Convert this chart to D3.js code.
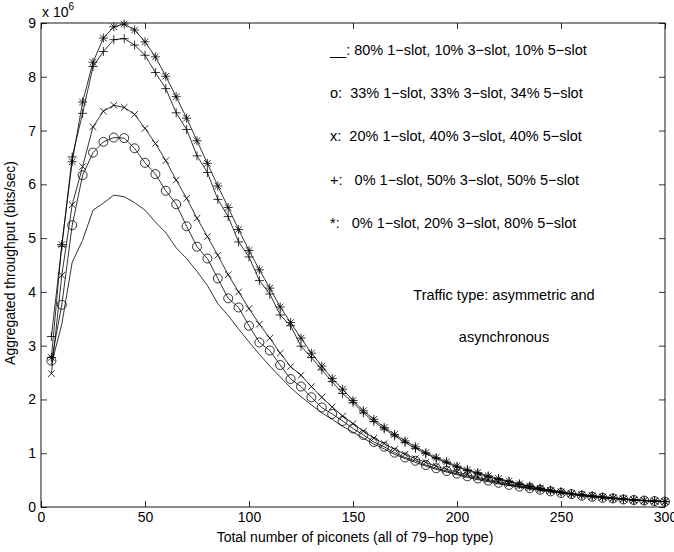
<!DOCTYPE html>
<html>
<head>
<meta charset="utf-8">
<script src="https://cdn.jsdelivr.net/npm/d3@7"></script>
<style>
  body { margin: 0; background: #fff; }
  svg text { font-family: "Liberation Sans", Arial, Helvetica, sans-serif; fill: #000; }
</style>
</head>
<body>
<svg id="chart" width="674" height="552"></svg>
<script>
// piconet counts (x) shared by every series
var piconets = d3.range(5, 301, 5);

// throughput in units of 1e6 bits/sec
var mix80_10_10 = [2.65,3.40,4.55,4.96,5.52,5.65,5.80,5.77,5.66,5.52,5.30,5.10,4.82,4.62,4.38,4.12,3.78,3.56,3.31,3.07,
  2.84,2.62,2.42,2.22,2.05,1.90,1.75,1.63,1.50,1.39,1.28,1.17,1.08,0.98,0.90,0.83,0.76,0.70,0.65,0.60,
  0.55,0.51,0.47,0.43,0.40,0.37,0.34,0.31,0.28,0.26,0.23,0.21,0.19,0.17,0.16,0.14,0.13,0.12,0.11,0.10];
var mix33_33_34 = [2.72,3.76,5.24,6.17,6.59,6.79,6.87,6.86,6.67,6.40,6.19,5.88,5.63,5.22,4.84,4.62,4.25,3.88,3.71,3.37,
  3.06,2.91,2.64,2.38,2.24,2.04,1.85,1.73,1.60,1.46,1.34,1.21,1.12,1.01,0.92,0.86,0.78,0.72,0.67,0.62,
  0.57,0.53,0.49,0.45,0.41,0.38,0.35,0.32,0.29,0.26,0.24,0.21,0.19,0.17,0.16,0.14,0.13,0.12,0.11,0.10];
var mix20_40_40 = [2.48,4.31,5.62,6.33,7.07,7.36,7.47,7.43,7.30,7.04,6.76,6.44,6.08,5.74,5.37,5.03,4.68,4.32,4.00,3.69,
  3.40,3.14,2.86,2.61,2.45,2.24,2.04,1.86,1.69,1.55,1.41,1.28,1.18,1.07,0.98,0.90,0.83,0.76,0.70,0.65,
  0.60,0.55,0.51,0.47,0.43,0.39,0.36,0.33,0.30,0.27,0.24,0.22,0.20,0.18,0.16,0.15,0.13,0.12,0.11,0.10];
var mix0_50_50 = [3.17,4.85,6.51,7.32,8.19,8.47,8.69,8.71,8.59,8.40,8.08,7.78,7.33,7.02,6.53,6.22,5.72,5.40,4.93,4.65,
  4.21,3.96,3.57,3.37,2.99,2.78,2.55,2.33,2.11,1.94,1.75,1.59,1.45,1.32,1.20,1.09,0.99,0.90,0.82,0.74,
  0.68,0.62,0.56,0.51,0.47,0.42,0.38,0.34,0.31,0.28,0.25,0.22,0.20,0.18,0.16,0.15,0.13,0.12,0.11,0.10];
var mix0_20_80 = [2.78,4.88,6.42,7.53,8.27,8.72,8.93,8.98,8.87,8.65,8.37,8.01,7.63,7.23,6.81,6.39,5.97,5.57,5.16,4.77,
  4.41,4.07,3.72,3.43,3.14,2.86,2.62,2.39,2.19,1.98,1.79,1.63,1.48,1.35,1.23,1.12,1.01,0.92,0.84,0.76,
  0.69,0.64,0.58,0.53,0.48,0.43,0.39,0.35,0.31,0.28,0.25,0.23,0.21,0.19,0.17,0.15,0.13,0.12,0.11,0.10];

var xTicks = [0, 50, 100, 150, 200, 250, 300];
var yTicks = [0, 1, 2, 3, 4, 5, 6, 7, 8, 9];

var legendLines = [
  "__: 80% 1\u2212slot, 10% 3\u2212slot, 10% 5\u2212slot",
  "o:  33% 1\u2212slot, 33% 3\u2212slot, 34% 5\u2212slot",
  "x:  20% 1\u2212slot, 40% 3\u2212slot, 40% 5\u2212slot",
  "+:   0% 1\u2212slot, 50% 3\u2212slot, 50% 5\u2212slot",
  "*:   0% 1\u2212slot, 20% 3\u2212slot, 80% 5\u2212slot"
];
var noteLines = ["Traffic type: asymmetric and", "asynchronous"];

var series = [
  {values: mix80_10_10, marker: "none"},
  {values: mix33_33_34, marker: "circle"},
  {values: mix20_40_40, marker: "cross"},
  {values: mix0_50_50, marker: "plus"},
  {values: mix0_20_80, marker: "star"}
];

var margin = {top: 23, right: 9, bottom: 45, left: 41};
var width = 674 - margin.left - margin.right;
var height = 552 - margin.top - margin.bottom;

var svg = d3.select("#chart");
var g = svg.append("g")
  .attr("transform", "translate(" + margin.left + "," + margin.top + ")");

var x = d3.scaleLinear().domain([0, 300]).range([0, width]);
var y = d3.scaleLinear().domain([0, 9]).range([height, 0]);

// axes with inward ticks on all four sides
function styleAxis(sel) {
  sel.select(".domain").remove();
  sel.selectAll(".tick line").attr("stroke", "#000").attr("stroke-width", 0.8);
  sel.selectAll("text").style("font-size", "14px").attr("fill", "#000");
}
g.append("g").attr("transform", "translate(0," + height + ")")
  .call(d3.axisBottom(x).tickValues(xTicks).tickSizeInner(-6).tickSizeOuter(0).tickPadding(5))
  .call(styleAxis);
g.append("g")
  .call(d3.axisTop(x).tickValues(xTicks).tickSizeInner(-6).tickSizeOuter(0).tickFormat(""))
  .call(styleAxis);
g.append("g")
  .call(d3.axisLeft(y).tickValues(yTicks).tickSizeInner(-6).tickSizeOuter(0).tickPadding(5))
  .call(styleAxis);
g.append("g").attr("transform", "translate(" + width + ",0)")
  .call(d3.axisRight(y).tickValues(yTicks).tickSizeInner(-6).tickSizeOuter(0).tickFormat(""))
  .call(styleAxis);

g.append("rect")
  .attr("width", width).attr("height", height)
  .attr("fill", "none").attr("stroke", "#000").attr("stroke-width", 0.9);

// curves
var line = d3.line()
  .x(function(d, i) { return x(piconets[i]); })
  .y(function(d) { return y(d); });

series.forEach(function(s) {
  g.append("path")
    .datum(s.values)
    .attr("d", line)
    .attr("fill", "none")
    .attr("stroke", "#000")
    .attr("stroke-width", 0.8);

  if (s.marker == "none") return;
  var m = g.append("g").selectAll("g")
    .data(s.values)
    .enter().append("g")
    .attr("transform", function(d, i) { return "translate(" + x(piconets[i]) + "," + y(d) + ")"; })
    .attr("fill", "none")
    .attr("stroke", "#000")
    .attr("stroke-width", 0.8);

  if (s.marker == "circle") {
    m.append("circle").attr("r", 4.5);
  }
  if (s.marker == "plus" || s.marker == "star") {
    m.append("path").attr("d", "M-4.5,0H4.5M0,-4.5V4.5");
  }
  if (s.marker == "cross" || s.marker == "star") {
    m.append("path").attr("d", "M-3.3,-3.3L3.3,3.3M-3.3,3.3L3.3,-3.3");
  }
});

// exponent label
var expo = svg.append("text").attr("x", 42).attr("y", 17).style("font-size", "14px");
expo.append("tspan").text("x 10");
expo.append("tspan").attr("dy", -7).style("font-size", "10px").text("6");

// axis titles
svg.append("text")
  .attr("x", margin.left + width / 2 + 2)
  .attr("y", 542)
  .attr("text-anchor", "middle")
  .style("font-size", "14px")
  .text("Total number of piconets (all of 79\u2212hop type)");

svg.append("text")
  .attr("transform", "translate(15," + (margin.top + height / 2 - 2) + ") rotate(-90)")
  .attr("text-anchor", "middle")
  .style("font-size", "14px")
  .text("Aggregated throughput (bits/sec)");

// legend text block
svg.append("g").selectAll("text")
  .data(legendLines)
  .enter().append("text")
  .attr("x", 330)
  .attr("y", function(d, i) { return 55 + i * 43.2; })
  .attr("xml:space", "preserve")
  .style("white-space", "pre")
  .style("font-size", "14.5px")
  .text(function(d) { return d; });

svg.append("g").selectAll("text")
  .data(noteLines)
  .enter().append("text")
  .attr("x", 504)
  .attr("y", function(d, i) { return 300 + i * 42; })
  .attr("text-anchor", "middle")
  .style("font-size", "14.5px")
  .text(function(d) { return d; });
</script>
</body>
</html>
